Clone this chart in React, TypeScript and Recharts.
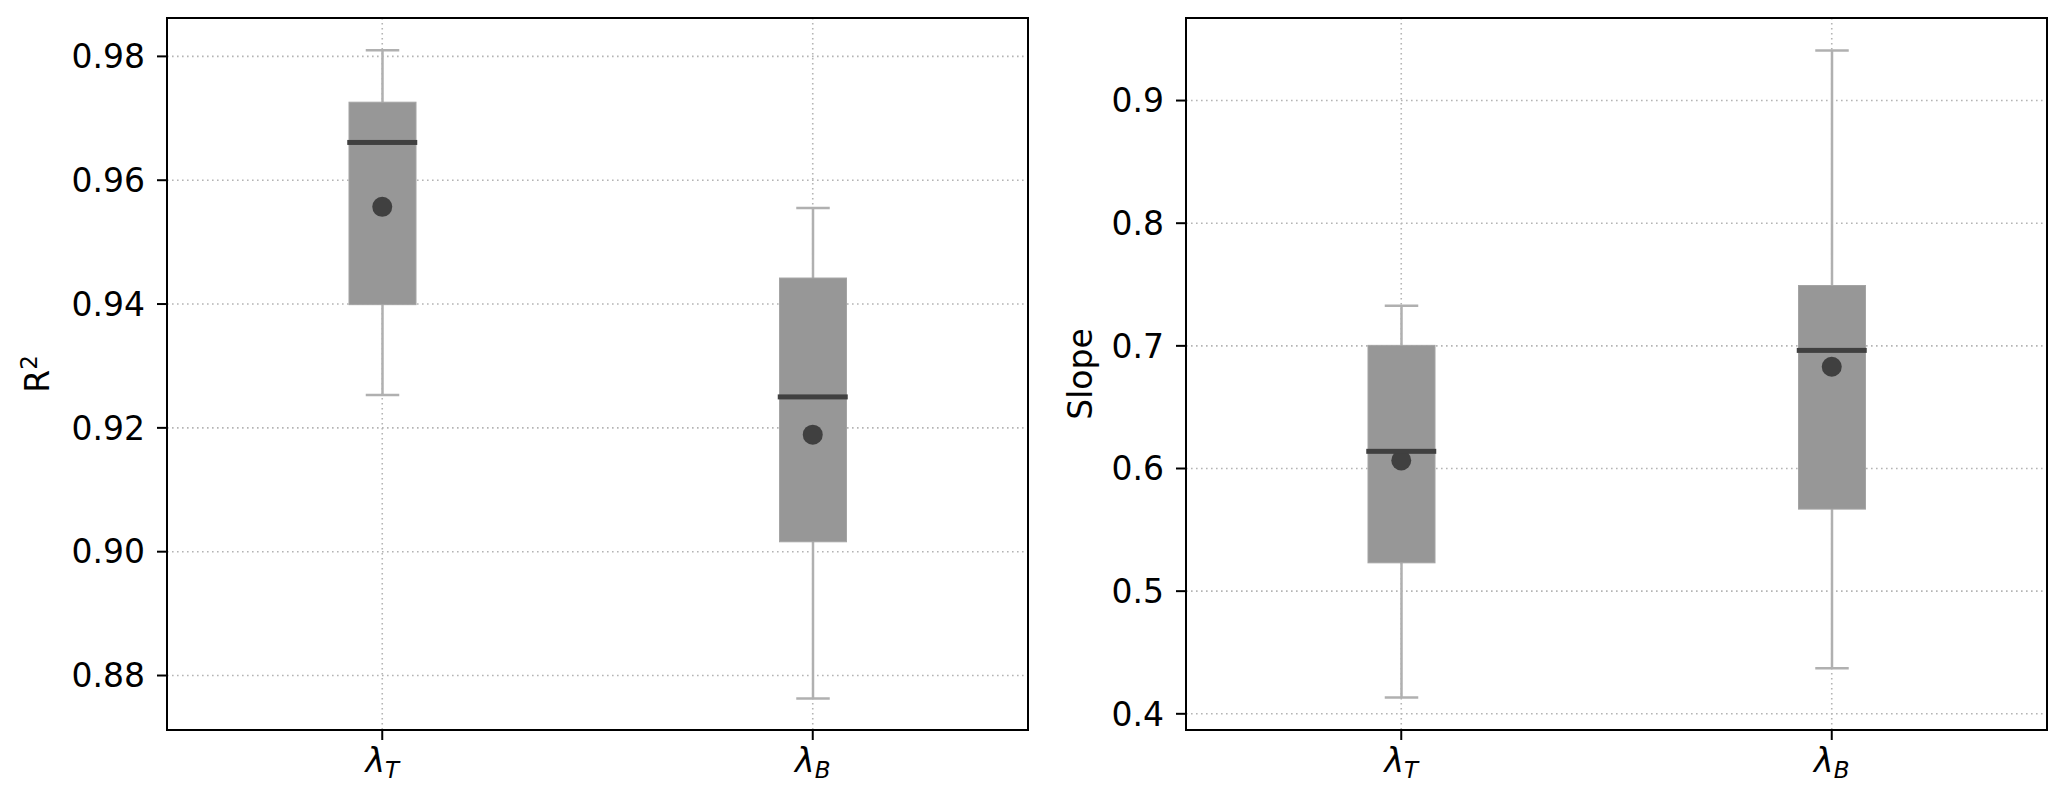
import React from 'react';
import * as RC from 'recharts';
import {
  ComposedChart,
  Bar,
  Scatter,
  XAxis,
  YAxis,
  CartesianGrid,
} from 'recharts';

// ---------- data ----------
const categories = ['T', 'B'];
const tickLabels = ['T', 'B']; // subscripts of λ

const r2Min = [0.9253, 0.8763];
const r2Q1 = [0.9399, 0.9016];
const r2Median = [0.9661, 0.925];
const r2Q3 = [0.9726, 0.9442];
const r2Max = [0.981, 0.9555];
const r2Mean = [0.9557, 0.9189];
const r2Ticks = [0.88, 0.9, 0.92, 0.94, 0.96, 0.98];

const slopeMin = [0.4132, 0.4372];
const slopeQ1 = [0.5231, 0.5669];
const slopeMedian = [0.614, 0.6963];
const slopeQ3 = [0.7004, 0.7492];
const slopeMax = [0.7326, 0.9409];
const slopeMean = [0.6066, 0.683];
const slopeTicks = [0.4, 0.5, 0.6, 0.7, 0.8, 0.9];

const buildRows = (
  mn: number[],
  q1: number[],
  med: number[],
  q3: number[],
  mx: number[],
  mean: number[]
) =>
  categories.map((c, i) => ({
    name: c,
    label: tickLabels[i],
    min: mn[i],
    q1: q1[i],
    median: med[i],
    q3: q3[i],
    max: mx[i],
    mean: mean[i],
  }));

const r2Rows = buildRows(r2Min, r2Q1, r2Median, r2Q3, r2Max, r2Mean);
const slopeRows = buildRows(slopeMin, slopeQ1, slopeMedian, slopeQ3, slopeMax, slopeMean);

// ---------- styles ----------
const FONT = 'DejaVu Sans';
const BOX_FILL = '#979797';
const BOX_EDGE = '#a4a4a4';
const WHISKER = '#b0b0b0';
const DARK = '#404040';
const GRID = '#b4b4b4';

// Box (whiskers + box) drawn from the range bar [min, max]
const BoxShape = (props: any) => {
  const { x, y, width, height, payload } = props;
  if (x == null || y == null) return null;
  const top = Math.min(y, y + height);
  const h = Math.abs(height);
  const { min, max, q1, q3 } = payload;
  const py = (v: number) => top + ((max - v) / (max - min)) * h;
  const cx = x + width / 2;
  const capHalf = width / 4;
  const yQ1 = py(q1);
  const yQ3 = py(q3);
  const yMin = py(min);
  const yMax = py(max);
  return (
    <g>
      <line x1={cx} x2={cx} y1={yMax} y2={yQ3} stroke={WHISKER} strokeWidth={2.5} />
      <line x1={cx} x2={cx} y1={yQ1} y2={yMin} stroke={WHISKER} strokeWidth={2.5} />
      <line x1={cx - capHalf} x2={cx + capHalf} y1={yMax} y2={yMax} stroke={WHISKER} strokeWidth={2.5} />
      <line x1={cx - capHalf} x2={cx + capHalf} y1={yMin} y2={yMin} stroke={WHISKER} strokeWidth={2.5} />
      <rect x={x} y={yQ3} width={width} height={yQ1 - yQ3} fill={BOX_FILL} stroke={BOX_EDGE} strokeWidth={1} />
    </g>
  );
};

const MeanDot = (props: any) => {
  const { cx, cy } = props;
  if (cx == null || cy == null) return null;
  return <circle cx={cx} cy={cy} r={10} fill={DARK} />;
};

const MedianLine = (props: any) => {
  const { cx, cy } = props;
  if (cx == null || cy == null) return null;
  return <rect x={cx - 35} y={cy - 2.5} width={70} height={5} fill={DARK} />;
};

const LambdaTick = (props: any) => {
  const { x, y, payload, index } = props;
  const sub = tickLabels[index] ?? payload?.value;
  return (
    <text
      x={x}
      y={y + 24}
      textAnchor="middle"
      fontFamily={FONT}
      fontSize={33}
      fontStyle="italic"
      fill="#000"
    >
      λ
      <tspan fontSize={23} dy={6}>
        {sub}
      </tspan>
    </text>
  );
};

// Frame around the plot area (matplotlib spines)
const usePlot: any = (RC as any).usePlotArea || (RC as any).useOffset;
const Frame = () => {
  const area = usePlot ? usePlot() : null;
  if (!area) return null;
  const x = area.x ?? area.left;
  const y = area.y ?? area.top;
  const w = area.width;
  const h = area.height;
  if (x == null || y == null || w == null || h == null) return null;
  return <rect x={x} y={y} width={w} height={h} fill="none" stroke="#000" strokeWidth={2} />;
};

type PanelProps = {
  rows: any[];
  domain: [number, number];
  ticks: number[];
  digits: number;
  left: number;
  width: number;
  marginLeft: number;
  marginRight: number;
  labelX: number;
  label: React.ReactNode;
};

const Panel = ({ rows, domain, ticks, digits, left, width, marginLeft, marginRight, labelX, label }: PanelProps) => (
  <div style={{ position: 'absolute', left, top: 0, width, height: 796 }}>
    <ComposedChart
      width={width}
      height={796}
      data={rows}
      margin={{ top: 18, right: marginRight, bottom: 0, left: marginLeft }}
      style={{ fontFamily: FONT }}
    >
      <CartesianGrid stroke={GRID} strokeWidth={1.6} strokeDasharray="1.6 3.4" />
      <XAxis
        dataKey="name"
        type="category"
        height={66}
        tickSize={10}
        tickMargin={8}
        axisLine={{ stroke: '#000', strokeWidth: 2 }}
        tickLine={{ stroke: '#000', strokeWidth: 2 }}
        tick={<LambdaTick />}
        interval={0}
      />
      <YAxis
        type="number"
        domain={domain}
        ticks={ticks}
        allowDataOverflow
        width={100}
        tickSize={10}
        tickMargin={12}
        axisLine={{ stroke: '#000', strokeWidth: 2 }}
        tickLine={{ stroke: '#000', strokeWidth: 2 }}
        tick={{ fontSize: 33, fill: '#000', fontFamily: FONT }}
        tickFormatter={(v: number) => v.toFixed(digits)}
        label={{
          content: () => (
            <text
              x={labelX}
              y={374}
              transform={`rotate(-90 ${labelX} 374)`}
              textAnchor="middle"
              fontFamily={FONT}
              fontSize={33}
              fill="#000"
            >
              {label}
            </text>
          ),
        }}
      />
      <Bar
        dataKey={(d: any) => [d.min, d.max]}
        barSize={67}
        shape={<BoxShape />}
        isAnimationActive={false}
      />
      <Scatter dataKey="mean" shape={<MeanDot />} isAnimationActive={false} />
      <Scatter dataKey="median" shape={<MedianLine />} isAnimationActive={false} />
      <Frame />
    </ComposedChart>
  </div>
);

export default function App() {
  return (
    <div
      style={{
        position: 'absolute',
        left: 0,
        top: 0,
        width: 2067,
        height: 796,
        background: '#fff',
        overflow: 'hidden',
      }}
    >
      <Panel
        rows={r2Rows}
        domain={[0.8712, 0.9862]}
        ticks={r2Ticks}
        digits={2}
        left={0}
        width={1040}
        marginLeft={67}
        marginRight={12}
        labelX={49}
        label={
          <>
            R
            <tspan fontSize={23} dy={-12}>
              2
            </tspan>
          </>
        }
      />
      <Panel
        rows={slopeRows}
        domain={[0.3868, 0.9673]}
        ticks={slopeTicks}
        digits={1}
        left={1034}
        width={1033}
        marginLeft={52}
        marginRight={20}
        labelX={58}
        label="Slope"
      />
    </div>
  );
}
